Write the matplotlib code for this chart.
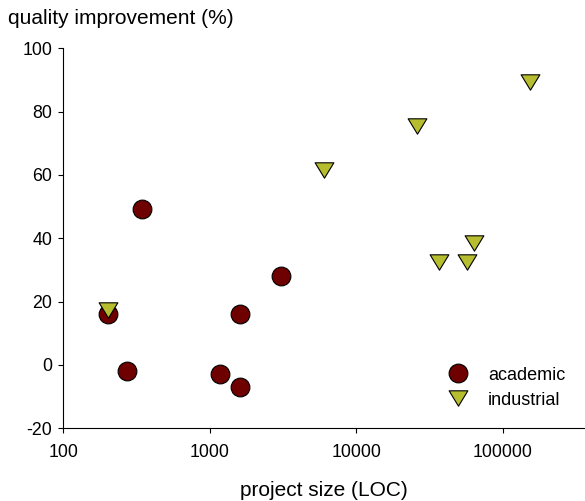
import numpy as np
import matplotlib.pyplot as plt
from matplotlib.path import Path

plt.rcParams['font.family'] = ['Liberation Sans', 'DejaVu Sans']
plt.rcParams['axes.unicode_minus'] = False

# project size (LOC) and quality improvement (%) per project
academic_loc = [201, 346, 274, 1176, 1610, 1610, 3069]
academic_gain = [16.2, 49.1, -2.0, -2.8, -6.8, 16.2, 28.1]

industrial_loc = [201, 6010, 25940, 37000, 56950, 63900, 154900]
industrial_gain = [17.5, 61.5, 75.4, 32.4, 32.4, 38.4, 89.2]

y_ticks = [-20, 0, 20, 40, 60, 80, 100]
x_ticks = [100, 1000, 10000, 100000]

# flatter down-pointing triangle, centred on its bounding box
tri = Path([(-1, 0.82), (1, 0.82), (0, -0.82), (-1, 0.82)],
           [Path.MOVETO, Path.LINETO, Path.LINETO, Path.CLOSEPOLY])

fig = plt.figure(figsize=(5.85, 5.01), dpi=100)
ax = fig.add_axes([0.1082, 0.1451, 0.8918, 0.7585])

ax.plot(academic_loc, academic_gain, linestyle='none', marker='o',
        markersize=13.5, markerfacecolor='#6e0000', markeredgecolor='black',
        markeredgewidth=0.8, label='academic', zorder=3)
ax.plot(industrial_loc, industrial_gain, linestyle='none', marker=tri,
        markersize=13.5, markerfacecolor='#b6bd2e', markeredgecolor='black',
        markeredgewidth=0.8, label='industrial', zorder=4)

ax.set_xscale('log')
ax.set_xlim(100, 366000)
ax.set_ylim(-20, 100)
ax.set_xticks(x_ticks)
ax.set_xticklabels([str(t) for t in x_ticks])
ax.xaxis.set_minor_locator(plt.NullLocator())
ax.set_yticks(y_ticks)

for side in ['top', 'right']:
    ax.spines[side].set_visible(False)
for side in ['left', 'bottom']:
    ax.spines[side].set_linewidth(0.8)
ax.tick_params(axis='both', direction='out', length=3.3, width=0.8,
               labelsize=12.8)
ax.tick_params(axis='x', pad=8)
ax.tick_params(axis='y', pad=4.5)

ax.set_xlabel('project size (LOC)', fontsize=15, labelpad=14.5)
fig.text(8 / 585, 1 - 19 / 501, 'quality improvement (%)', fontsize=15,
         ha='left', va='center')

ax.legend(loc='upper left', bbox_to_anchor=(449 / 585, 1 - 366.5 / 501),
          bbox_transform=fig.transFigure, frameon=False, fontsize=13,
          handlelength=1.0, handletextpad=1.17, labelspacing=0.45,
          borderpad=0, borderaxespad=0)

fig.savefig('out.png', dpi=100)
